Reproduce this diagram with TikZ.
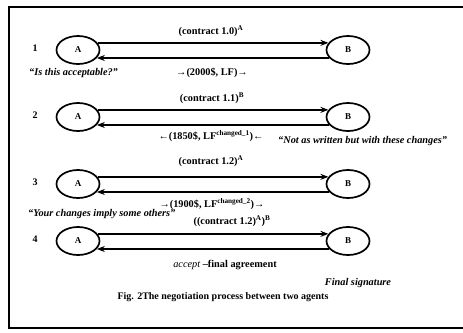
\documentclass[tikz,border=0pt]{standalone}
\usepackage{fontspec}
\setmainfont{Liberation Serif}
\usetikzlibrary{arrows.meta,shapes.geometric}
\begin{document}
\begin{tikzpicture}[x=1pt,y=-1pt,
  agent/.style={draw, line width=1.7pt, ellipse, minimum width=43pt, minimum height=28pt, inner sep=0pt, font=\bfseries\fontsize{9}{10}\selectfont},
  msg/.style={line width=1.9pt, -{Stealth[length=8pt,width=6pt]}},
  lbl/.style={font=\bfseries\fontsize{10.3}{12}\selectfont, inner sep=0pt},
  quote/.style={font=\bfseries\itshape\fontsize{10.3}{12}\selectfont, inner sep=0pt},
  num/.style={font=\bfseries\fontsize{10}{12}\selectfont, inner sep=0pt}]
\useasboundingbox (0,0) rectangle (463,332);
% frame
\draw[line width=1.6pt] (463,7) -- (9,7) -- (9,328) -- (463,328);
% rows
\foreach \r/\y in {1/50, 2/117, 3/184, 4/241}{
  \node[num] (n\r) at (35,\y-2) {\r};
  \node[agent] (A\r) at (78,\y) {A};
  \node[agent] (B\r) at (348,\y) {B};
  \draw[msg] (A\r.20) -- (B\r.160);
  \draw[msg] (B\r.-157) -- (A\r.-23);
}
% labels row 1
\node[lbl] (l1a) at (211,31) {(contract 1.0)\textsuperscript{A}};
\node[lbl] (l1b) at (212,73) {→(2000\$, LF)→};
\node[quote, anchor=west] (q1) at (29,73) {“Is this acceptable?”};
% row 2
\node[lbl] (l2a) at (212,98) {(contract 1.1)\textsuperscript{B}};
\node[lbl] (l2b) at (211,136) {←(1850\$, LF\textsuperscript{changed\_1})←};
\node[quote, anchor=west] (q2) at (278,141) {“Not as written but with these changes”};
% row 3
\node[lbl] (l3a) at (211,161) {(contract 1.2)\textsuperscript{A}};
\node[lbl] (l3b) at (212,204) {→(1900\$, LF\textsuperscript{changed\_2})→};
\node[quote, anchor=west] (q3) at (28,214) {“Your changes imply some others”};
% row 4
\node[lbl] (l4a) at (232,221) {((contract 1.2)\textsuperscript{A})\textsuperscript{B}};
\node[lbl] (l4b) at (225,265) {\mdseries\itshape accept \upshape\bfseries –final agreement};
\node[quote] (fs) at (358,283) {Final signature};
\node[lbl, font=\bfseries\fontsize{10}{12}\selectfont] (cap) at (223,297) {Fig. 2The negotiation process between two agents};
\end{tikzpicture}
\end{document}
